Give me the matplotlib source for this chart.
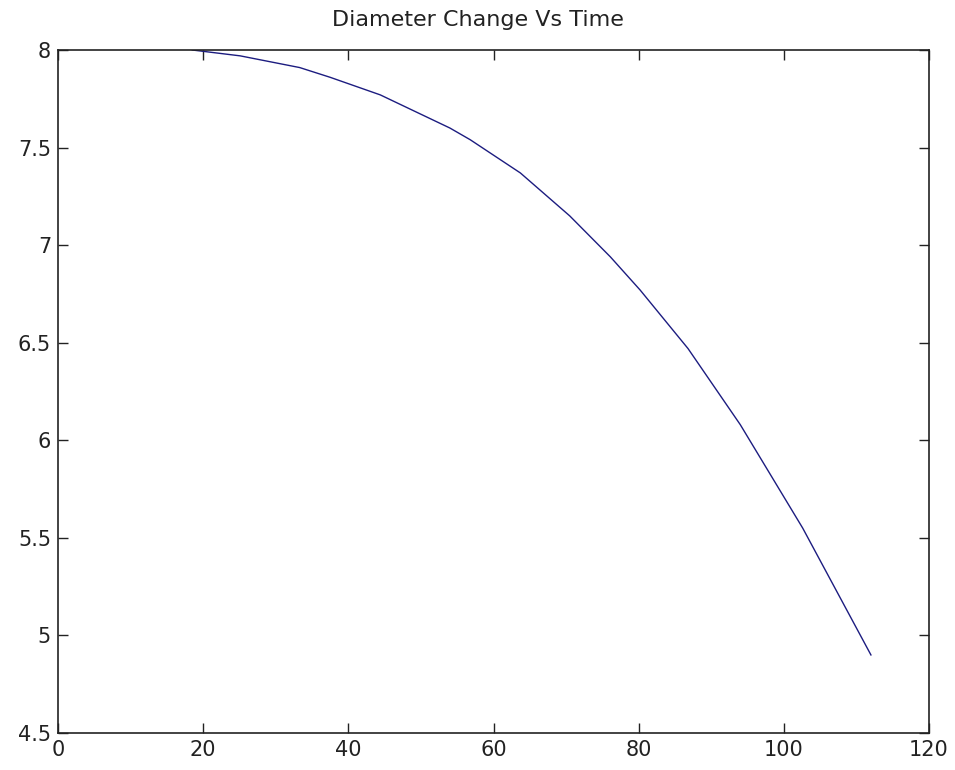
import matplotlib
matplotlib.use("Agg")
import matplotlib.pyplot as plt

# Data
time = [18.5, 25.1, 33.3, 37.5, 44.4, 54.0, 56.8, 63.7, 70.5, 76.1, 80.2, 86.8, 94.0, 102.6, 112.0]
diameter = [8.00, 7.97, 7.91, 7.86, 7.77, 7.60, 7.54, 7.37, 7.15, 6.94, 6.77, 6.47, 6.08, 5.55, 4.90]

x_ticks = [0, 20, 40, 60, 80, 100, 120]
y_ticks = [4.5, 5, 5.5, 6, 6.5, 7, 7.5, 8]
y_tick_labels = ["4.5", "5", "5.5", "6", "6.5", "7", "7.5", "8"]
title = "Diameter Change Vs Time"

plt.rcParams['font.family'] = ['DejaVu Sans']

fig = plt.figure(figsize=(9.55, 7.7), dpi=100)
ax = fig.add_axes([58/955, 37/770, (929-58)/955, (733-50)/770])

ax.plot(time, diameter, color='#1c1c80', linewidth=1.0)

ax.set_xlim(0, 120)
ax.set_ylim(4.5, 8)
ax.set_xticks(x_ticks)
ax.set_xticklabels([str(t) for t in x_ticks])
ax.set_yticks(y_ticks)
ax.set_yticklabels(y_tick_labels)

ax.tick_params(direction='in', length=7, width=1, top=True, right=True,
               labelsize=15, colors='#222222', pad=5)
for s in ax.spines.values():
    s.set_linewidth(1.2)
    s.set_color('#222222')

fig.text(0.5, 1 - 20/770, title, fontsize=16, color='#222222',
         ha='center', va='center')

fig.savefig("out.png", dpi=100, facecolor='white')
